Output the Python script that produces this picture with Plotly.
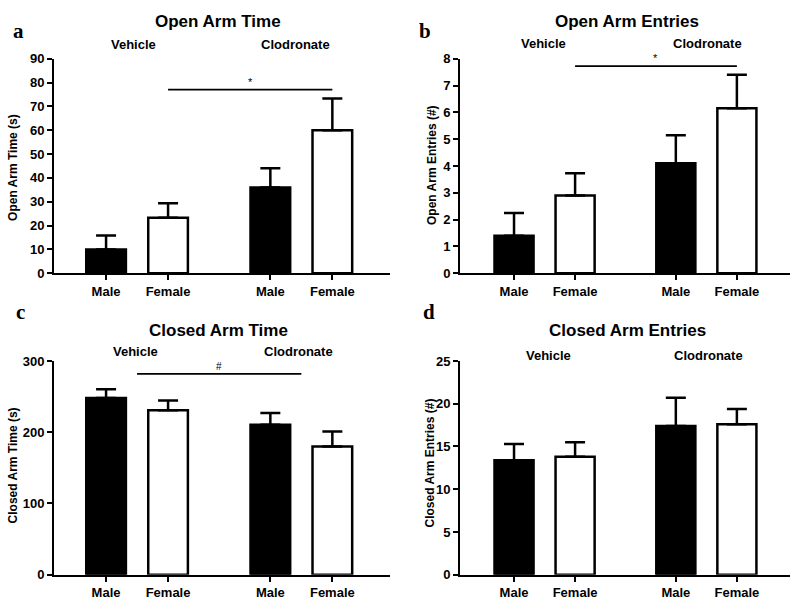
import plotly.graph_objects as go

W, H = 800, 609

# ---------------- data ----------------
categories = ["Male", "Female", "Male", "Female"]
groups = ["Vehicle", "Clodronate"]

titles = ["Open Arm Time", "Open Arm Entries", "Closed Arm Time", "Closed Arm Entries"]
letters = ["a", "b", "c", "d"]
ytitles = ["Open Arm Time (s)", "Open Arm Entries (#)", "Closed Arm Time (s)", "Closed Arm Entries (#)"]

oat_mean = [10, 23.3, 36, 60]
oat_sem = [5.8, 6.1, 8, 13.3]
oae_mean = [1.4, 2.9, 4.1, 6.15]
oae_sem = [0.85, 0.83, 1.05, 1.25]
cat_mean = [248, 231, 210.5, 180]
cat_sem = [12.5, 13.5, 16.5, 21]
cae_mean = [13.4, 13.8, 17.4, 17.6]
cae_sem = [1.9, 1.7, 3.3, 1.8]

means = [oat_mean, oae_mean, cat_mean, cae_mean]
sems = [oat_sem, oae_sem, cat_sem, cae_sem]

yranges = [[0, 90], [0, 8], [0, 300], [0, 25]]
ydticks = [10, 1, 100, 5]

# significance: (from, to, y, symbol)
sig = [("bar1", "bar3", 77, "*"), ("bar1", "bar3", 7.72, "*"), ("grp0", "grp1", 282, "#"), None]

# ---------------- layout ----------------
gap = 1.65
pos = [0, 1, 1 + gap, 2 + gap]
grp_centers = [(pos[0] + pos[1]) / 2, (pos[2] + pos[3]) / 2]

# pixel boxes (x0, x1, ytop, ybottom)
boxes = [(54, 390, 53, 273), (460, 790, 53, 273), (54, 390, 363, 582), (460, 790, 363, 582)]
xranges = [[-0.84, 4.58], [-0.885, 4.52], [-0.84, 4.58], [-0.885, 4.52]]

fig = go.Figure()
FONT = "Liberation Sans"

def px(x, y):
    return x / W, 1 - y / H

annotations = []
for i in range(4):
    xa = "x" if i == 0 else f"x{i+1}"
    ya = "y" if i == 0 else f"y{i+1}"
    m, s = means[i], sems[i]
    for sex_idx, color in [(0, "black"), (1, "white")]:
        idxs = [j for j in range(4) if j % 2 == sex_idx]
        fig.add_trace(go.Bar(
            x=[pos[j] for j in idxs], y=[m[j] for j in idxs],
            width=0.64,
            marker=dict(color=color, line=dict(color="black", width=2.5)),
            error_y=dict(type="data", array=[s[j] for j in idxs], arrayminus=[0, 0],
                         symmetric=False, color="black", thickness=2.5, width=10),
            xaxis=xa, yaxis=ya, showlegend=False, hoverinfo="skip"))
    x0, x1, yt, yb = boxes[i]
    dom_x = [x0 / W, x1 / W]
    dom_y = [1 - yb / H, 1 - yt / H]
    axx = dict(domain=dom_x, range=xranges[i], tickmode="array", tickvals=pos, ticktext=categories,
               showline=True, linecolor="black", linewidth=2, ticks="outside", ticklen=5, tickwidth=2,
               tickcolor="black", showgrid=False, zeroline=False,
               tickfont=dict(family=FONT, size=13, color="black", weight="bold"), anchor=ya, fixedrange=True)
    axy = dict(domain=dom_y, range=yranges[i], dtick=ydticks[i], tick0=0,
               showline=True, linecolor="black", linewidth=2, ticks="outside", ticklen=5, tickwidth=2,
               tickcolor="black", showgrid=False, zeroline=False,
               tickfont=dict(family=FONT, size=13, color="black", weight="bold"), anchor=xa, fixedrange=True)
    key = "" if i == 0 else str(i + 1)
    fig.layout["xaxis" + key] = axx
    fig.layout["yaxis" + key] = axy

    if sig[i] is not None:
        a, b, yv, sym = sig[i]
        def resolve(k):
            return pos[int(k[3:])] if k.startswith("bar") else grp_centers[int(k[3:])]
        xa0, xa1 = resolve(a), resolve(b)
        fig.add_trace(go.Scatter(x=[xa0, xa1], y=[yv, yv], mode="lines",
                                 line=dict(color="black", width=1.8), xaxis=xa, yaxis=ya,
                                 showlegend=False, hoverinfo="skip"))
        annotations.append(dict(x=(xa0 + xa1) / 2, y=yv, xref=xa, yref=ya, text=sym, showarrow=False,
                                yanchor="bottom", yshift=0,
                                font=dict(family=FONT, size=11 if sym == "*" else 10, color="black")))

title_pos = [(218, 15), (627, 15), (218, 332), (627, 332)]
letter_pos = [(18, 25), (425, 25), (20, 313), (429, 313)]
veh_pos = [(133, 38), (543, 37), (135, 353), (548, 357)]
clo_pos = [(295, 38), (707, 37), (298, 353), (708, 357)]
yt_pos = [(13, 165), (432, 162), (13, 470), (430, 468)]

for i in range(4):
    x, y = px(*title_pos[i])
    annotations.append(dict(x=x, y=y, xref="paper", yref="paper", text=titles[i], showarrow=False,
                            xanchor="center", yanchor="middle",
                            font=dict(family=FONT, size=17, color="black", weight="bold")))
    x, y = px(*letter_pos[i])
    annotations.append(dict(x=x, y=y, xref="paper", yref="paper", text=letters[i], showarrow=False,
                            xanchor="center", yanchor="middle",
                            font=dict(family="Liberation Serif", size=21, color="black", weight="bold")))
    for (gx, gy), g in [(veh_pos[i], groups[0]), (clo_pos[i], groups[1])]:
        x, y = px(gx, gy)
        annotations.append(dict(x=x, y=y, xref="paper", yref="paper", text=g, showarrow=False,
                                xanchor="center", yanchor="middle",
                                font=dict(family=FONT, size=13, color="black", weight="bold")))
    x, y = px(*yt_pos[i])
    annotations.append(dict(x=x, y=y, xref="paper", yref="paper", text=ytitles[i], showarrow=False,
                            textangle=-90, xanchor="center", yanchor="middle",
                            font=dict(family=FONT, size=12, color="black", weight="bold")))

fig.update_layout(width=W, height=H, margin=dict(l=0, r=0, t=0, b=0),
                  paper_bgcolor="white", plot_bgcolor="white", annotations=annotations,
                  barmode="overlay")

fig.write_html("out.html", config={"displayModeBar": False, "staticPlot": True},
               post_script="document.body.style.margin='0px';document.body.style.overflow='hidden';")
